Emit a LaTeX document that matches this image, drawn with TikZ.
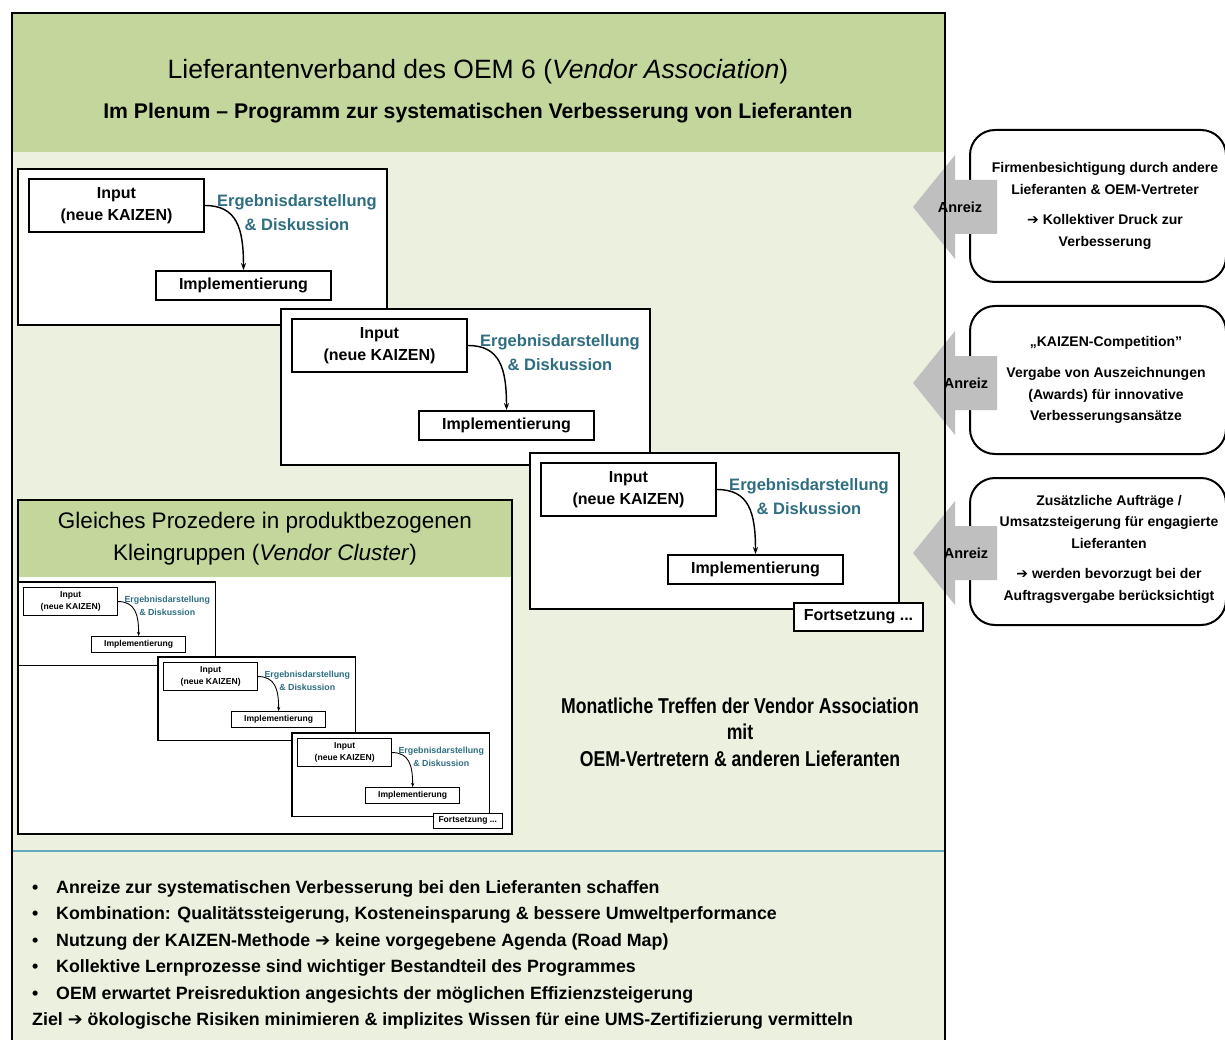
\documentclass[tikz,border=0pt]{standalone}
\usepackage{fontspec}
\setmainfont{Liberation Sans}
\newfontfamily\narrowfont{Liberation Sans}[FakeStretch=0.82]
\newfontfamily\symfont{DejaVu Sans}
\usetikzlibrary{arrows.meta}

\definecolor{headgreen}{HTML}{C3D69B}
\definecolor{bodygreen}{HTML}{EBF1DE}
\definecolor{discteal}{HTML}{2E6E80}
\definecolor{ruleteal}{HTML}{62AABD}
\definecolor{incgray}{HTML}{BFBFBF}

\newcommand\rarr{{\symfont\char"2794}}

\tikzset{
  blockframe/.style={draw, fill=white, minimum width=369, minimum height=156, inner sep=0},
  stepbox/.style={draw, fill=white, minimum width=175, minimum height=53, inner sep=0,
    align=center, font=\fontsize{16}{22}\selectfont\bfseries},
  disctext/.style={align=center, inner sep=0, text=discteal,
    font=\fontsize{16.5}{24}\selectfont\bfseries},
  flowarrow/.style={-{Stealth[length=0pt 5, width=0pt 3.6]}},
  incbox/.style={draw, fill=white, line width=2, rounded corners=25, minimum width=256,
    inner sep=0},
  inctext/.style={align=center, inner sep=0, font=\fontsize{14}{21.5}\selectfont\bfseries},
  inclabel/.style={inner sep=0, font=\fontsize{14.5}{17}\selectfont\bfseries},
  bulletline/.style={anchor=base west, inner sep=0, font=\fontsize{17.8}{20}\selectfont\bfseries},
}

% one KAIZEN cycle: #1 name prefix, #2/#3 top-left corner, #4 scale, #5 line width
\newcommand\kaizenblock[5]{%
  \begin{scope}[shift={(#2,#3)}, scale=#4, transform shape]
    \node[blockframe, line width=#5] (#1frame) at (184.5,78) {};
    \node[stepbox, line width=#5] (#1in) at (98.5,36.5) {Input\\(neue KAIZEN)};
    \node[stepbox, minimum height=29, line width=#5] (#1impl) at (225.5,116.5) {Implementierung};
    \node[disctext] (#1disc) at (279,44) {Ergebnisdarstellung\\\&~Diskussion};
    \draw[flowarrow, line width=0.8*#5] (#1in.east) .. controls +(32,0) and +(0,-42) .. (#1impl.north);
  \end{scope}}

% "continued" tag below the last cycle
\newcommand\contbox[5]{%
  \begin{scope}[shift={(#2,#3)}, scale=#4, transform shape]
    \node[stepbox, minimum width=129, minimum height=28, line width=#5] (#1) at (328.5,164) {Fortsetzung ...};
  \end{scope}}

% grey incentive arrow pointing into the association frame
\newcommand\incarrow[3]{%
  \fill[incgray] (913,#3) -- (955,#3-52) -- (955,#3-27) -- (997,#3-27) -- (997,#3+27)
    -- (955,#3+27) -- (955,#3+52) -- cycle;
  \node[inclabel] (#1) at (#2,#3) {Anreiz};}

\begin{document}
\begin{tikzpicture}[x=1pt, y=-1pt]
  \useasboundingbox (0,0) rectangle (1225,1040);
  \clip (0,0) rectangle (1225,1040);
  \fill[white] (0,0) rectangle (1225,1040);

  % association frame
  \fill[headgreen] (12,13) rectangle (945,152);
  \fill[bodygreen] (12,152) rectangle (945,1050);
  \draw[ruleteal, line width=1.2] (12,851) -- (945,851);

  \node[font=\fontsize{26.5}{30}\selectfont] (title) at (478,72)
    {Lieferantenverband des OEM 6 (\textit{Vendor Association})};
  \node[font=\fontsize{21.2}{25}\selectfont\bfseries] (subtitle) at (478,113)
    {Im Plenum – Programm zur systematischen Verbesserung von Lieferanten};

  % plenum cycles
  \kaizenblock{a}{18}{169}{1}{1.8}
  \kaizenblock{b}{281}{309}{1}{1.8}
  \kaizenblock{c}{530}{453}{1}{1.8}
  \contbox{cont}{530}{453}{1}{1.8}

  % vendor cluster panel
  \node[fill=white, minimum width=494, minimum height=334, inner sep=0] (cluster) at (265,667) {};
  \fill[headgreen] (18,500) rectangle (512,577);
  \node[align=center, font=\fontsize{22.5}{32}\selectfont] (clusterhead) at (265,539)
    {Gleiches Prozedere in produktbezogenen\\Kleingruppen (\textit{Vendor Cluster})};
  \kaizenblock{ma}{18}{582}{0.535}{1.1}
  \kaizenblock{mb}{158}{657}{0.535}{1.1}
  \kaizenblock{mc}{292}{733}{0.535}{1.1}
  \contbox{mcont}{292}{733}{0.535}{1.1}
  \draw[line width=2] (cluster.north west) rectangle (cluster.south east);

  % monthly meetings
  \node[align=center, font=\narrowfont\fontsize{21.5}{26.5}\selectfont\bfseries] (meeting) at (740,732)
    {Monatliche Treffen der Vendor Association\\mit\\OEM-Vertretern \& anderen Lieferanten};

  % programme goals
  \foreach \yy [count=\k] in {887,913,940,966,993}
    \node[bulletline] (dot\k) at (32,\yy+6) {•};
  \node[bulletline] (goal1) at (56,893) {Anreize zur systematischen Verbesserung bei den Lieferanten schaffen};
  \node[bulletline] (goal2) at (56,919) {Kombination: Qualitätssteigerung, Kosteneinsparung \& bessere Umweltperformance};
  \node[bulletline] (goal3) at (56,946) {Nutzung der KAIZEN-Methode \rarr{} keine vorgegebene Agenda (Road Map)};
  \node[bulletline] (goal4) at (56,972) {Kollektive Lernprozesse sind wichtiger Bestandteil des Programmes};
  \node[bulletline] (goal5) at (56,999) {OEM erwartet Preisreduktion angesichts der möglichen Effizienzsteigerung};
  \node[bulletline] (goal6) at (32,1025) {Ziel \rarr{} ökologische Risiken minimieren \& implizites Wissen für eine UMS-Zertifizierung vermitteln};

  % incentive boxes
  \node[incbox, minimum height=152] (inc1) at (1098,206) {};
  \node[incbox, minimum height=148] (inc2) at (1098,380) {};
  \node[incbox, minimum height=147] (inc3) at (1098,551.5) {};
  \node[inctext] (inc1text) at (1105,206)
    {Firmenbesichtigung durch andere\\Lieferanten \& OEM-Vertreter\\[9pt]\rarr{} Kollektiver Druck zur\\Verbesserung};
  \node[inctext] (inc2text) at (1106,380)
    {„KAIZEN-Competition”\\[10pt]Vergabe von Auszeichnungen\\(Awards) für innovative\\Verbesserungsansätze};
  \node[inctext] (inc3text) at (1109,549)
    {Zusätzliche Aufträge /\\Umsatzsteigerung für engagierte\\Lieferanten\\[9pt]\rarr{} werden bevorzugt bei der\\Auftragsvergabe berücksichtigt};

  \incarrow{anreiz1}{960}{207}
  \incarrow{anreiz2}{966}{383}
  \incarrow{anreiz3}{966}{553}

  \draw[line width=2] (12,1050) -- (12,13) -- (945,13) -- (945,1050);
\end{tikzpicture}
\end{document}
